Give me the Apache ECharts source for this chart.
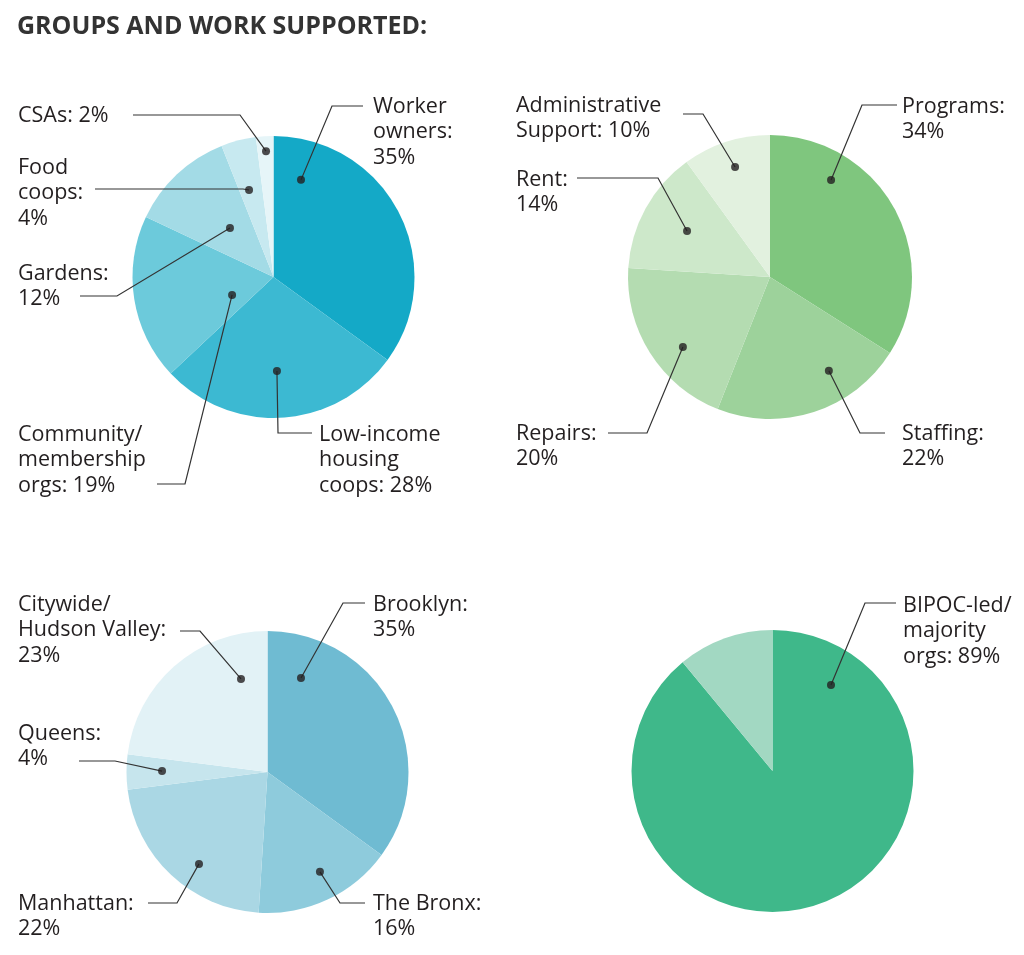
<!DOCTYPE html>
<html>
<head>
<meta charset="utf-8">
<title>Groups and work supported</title>
<script src="https://cdn.jsdelivr.net/npm/echarts@6/dist/echarts.min.js"></script>
<style>
  html, body { margin: 0; padding: 0; background: #fff; }
  #chart { width: 1024px; height: 955px; }
</style>
</head>
<body>
<div id="chart"></div>
<script>
const chartDom = document.getElementById('chart');
const myChart = echarts.init(chartDom);

// data, clockwise from 12 o'clock
const groupNames = ['Worker\nowners', 'Low-income\nhousing\ncoops', 'Community/\nmembership\norgs', 'Gardens', 'Food\ncoops', 'CSAs'];
const groupValues = [35, 28, 19, 12, 4, 2];

const spendNames = ['Programs', 'Staffing', 'Repairs', 'Rent', 'Administrative\nSupport'];
const spendValues = [34, 22, 20, 14, 10];

const boroughNames = ['Brooklyn', 'The Bronx', 'Manhattan', 'Queens', 'Citywide/\nHudson Valley'];
const boroughValues = [35, 16, 22, 4, 23];

const leadNames = ['BIPOC-led/\nmajority\norgs', 'Other orgs'];
const leadValues = [89, 11];

const textColor = '#231f20';
const fontFamily = '"Open Sans", "Noto Sans", sans-serif';

// layout: label box [x, y], leader line [lineY, endX, bendX], dot [radius share, angle], wrap value to new line
const pies = [
    {
        names: groupNames, values: groupValues, center: [273.5, 277], radius: 141,
        colors: ['#14a9c7', '#3cb9d2', '#6ccadb', '#a3dbe6', '#c7e9f0', '#e6f5f8'],
        labels: [
            {x: 373, y: 94, lineY: 106, end: 363, bend: 332, dot: [0.716, 15.8], wrap: true},
            {x: 319, y: 422, lineY: 433, end: 312, bend: 278, dot: [0.667, 177.9], wrap: false},
            {x: 18, y: 422, lineY: 484, end: 157, bend: 185, dot: [0.32, 246.6], wrap: false},
            {x: 18, y: 261, lineY: 296, end: 80, bend: 117, dot: [0.465, 318.4], wrap: true},
            {x: 18, y: 155, lineY: 189, end: 95, bend: 243, dot: [0.641, 344.3], wrap: true},
            {x: 18, y: 103, lineY: 115, end: 133, bend: 240, dot: [0.894, 356.6], wrap: false}
        ]
    },
    {
        names: spendNames, values: spendValues, center: [770, 277], radius: 142,
        colors: ['#7fc67e', '#9dd29b', '#b4dcb1', '#cde8ca', '#e2f1df'],
        labels: [
            {x: 902, y: 94, lineY: 105, end: 897, bend: 862, dot: [0.807, 32.2], wrap: true},
            {x: 902, y: 421, lineY: 433, end: 885, bend: 860, dot: [0.78, 147.9], wrap: true},
            {x: 516, y: 421, lineY: 433, end: 608, bend: 647, dot: [0.787, 231.2], wrap: true},
            {x: 516, y: 167, lineY: 178, end: 577, bend: 658, dot: [0.668, 299], wrap: true},
            {x: 516, y: 93, lineY: 114, end: 683, bend: 703, dot: [0.813, 342.4], wrap: false}
        ]
    },
    {
        names: boroughNames, values: boroughValues, center: [267.5, 772], radius: 141,
        colors: ['#6fbbd2', '#8ecbdc', '#aad7e4', '#c6e5ed', '#e2f2f6'],
        labels: [
            {x: 373, y: 592, lineY: 603, end: 365, bend: 343, dot: [0.708, 19.6], wrap: true},
            {x: 373, y: 891, lineY: 903, end: 365, bend: 340, dot: [0.80, 152.3], wrap: true},
            {x: 18, y: 891, lineY: 903, end: 148, bend: 177, dot: [0.813, 216.7], wrap: true},
            {x: 18, y: 721, lineY: 761, end: 79, bend: 115, dot: [0.748, 270.5], wrap: true},
            {x: 18, y: 592, lineY: 631, end: 180, bend: 200, dot: [0.686, 344.1], wrap: true}
        ]
    },
    {
        names: leadNames, values: leadValues, center: [772.5, 771], radius: 141,
        colors: ['#3fb88a', '#a2d8c2'],
        labels: [
            {x: 903, y: 593, lineY: 603, end: 896, bend: 865, dot: [0.738, 34.2], wrap: false},
            null
        ]
    }
];

function dotPixel(pie, dot) {
    const a = dot[1] * Math.PI / 180;
    const r = dot[0] * pie.radius;
    return [pie.center[0] + r * Math.sin(a), pie.center[1] - r * Math.cos(a)];
}

const polar = [];
const angleAxis = [];
const radiusAxis = [];
const series = [];

pies.forEach((pie, i) => {
    polar.push({center: pie.center, radius: pie.radius});
    angleAxis.push({
        polarIndex: i, type: 'value', min: 0, max: 360, startAngle: 90, clockwise: true,
        axisLine: {show: false}, axisTick: {show: false}, axisLabel: {show: false}, splitLine: {show: false}
    });
    radiusAxis.push({
        polarIndex: i, type: 'value', min: 0, max: 1,
        axisLine: {show: false}, axisTick: {show: false}, axisLabel: {show: false}, splitLine: {show: false}
    });

    const pieData = pie.names.map((name, j) => ({name: name, value: pie.values[j]}));

    // the coloured slices
    series.push({
        type: 'pie',
        center: pie.center,
        radius: pie.radius,
        startAngle: 90,
        clockwise: true,
        silent: true,
        z: 1,
        color: pie.colors,
        itemStyle: {borderWidth: 0},
        label: {show: false},
        labelLine: {show: false},
        data: pieData
    });

    // a see-through copy on top that carries the labels and leader lines
    series.push({
        type: 'pie',
        center: pie.center,
        radius: pie.radius,
        startAngle: 90,
        clockwise: true,
        avoidLabelOverlap: false,
        silent: true,
        z: 3,
        itemStyle: {color: 'rgba(0,0,0,0)', borderWidth: 0},
        data: pieData.map((d, j) => ({
            name: d.name,
            value: d.value,
            label: {show: !!pie.labels[j]},
            labelLine: {show: !!pie.labels[j]}
        })),
        label: {
            position: 'outside',
            color: textColor,
            fontFamily: fontFamily,
            fontSize: 21.5,
            lineHeight: 25.5,
            align: 'left',
            formatter: (p) => {
                const L = pie.labels[p.dataIndex];
                return p.name + ':' + (L && L.wrap ? '\n' : ' ') + p.value + '%';
            }
        },
        labelLine: {
            show: true,
            showAbove: true,
            lineStyle: {color: '#333', width: 1.2}
        },
        labelLayout: (params) => {
            const L = pie.labels[params.dataIndex];
            if (!L) return {};
            return {
                x: L.x,
                y: L.y,
                align: 'left',
                verticalAlign: 'top',
                labelLinePoints: [dotPixel(pie, L.dot), [L.bend, L.lineY], [L.end, L.lineY]]
            };
        }
    });

    series.push({
        type: 'scatter',
        coordinateSystem: 'polar',
        polarIndex: i,
        silent: true,
        symbolSize: 8,
        z: 5,
        itemStyle: {color: textColor},
        data: pie.labels.filter(L => L).map(L => L.dot)
    });
});

const option = {
    animation: false,
    backgroundColor: '#fff',
    title: {
        text: 'GROUPS AND WORK SUPPORTED:',
        left: 12,
        top: 9,
        textStyle: {fontFamily: fontFamily, fontWeight: 'bold', fontSize: 25, color: '#333'}
    },
    polar: polar,
    angleAxis: angleAxis,
    radiusAxis: radiusAxis,
    series: series
};
myChart.setOption(option);
</script>
</body>
</html>
